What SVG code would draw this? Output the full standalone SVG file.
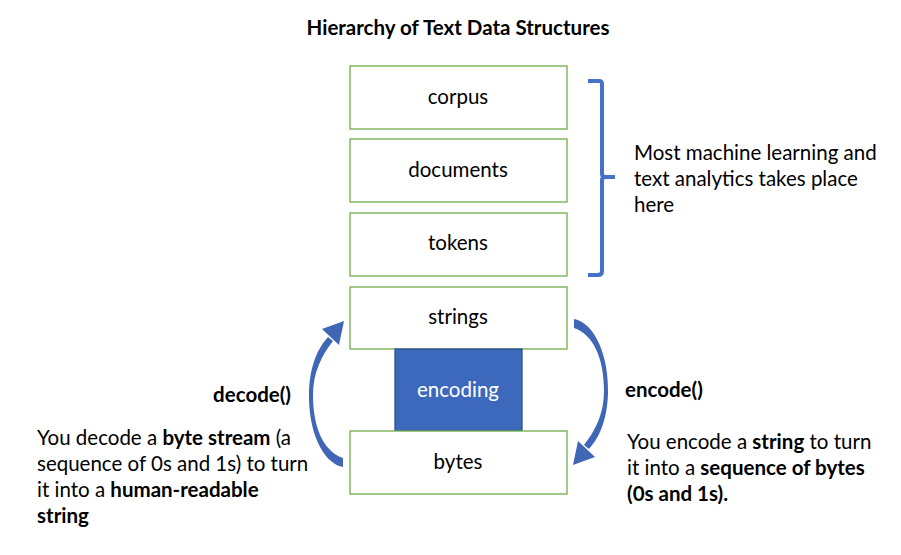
<svg xmlns="http://www.w3.org/2000/svg" width="901" height="555" viewBox="0 0 901 555">
<style>
  text { font-family: Lato, "Open Sans", "Liberation Sans", sans-serif; font-size: 20.5px; fill: #000; }
  .box { fill: #fff; stroke: #70ad47; stroke-width: 1.3; }
  .enc { fill: #3d69bd; stroke: #2f528f; stroke-width: 1.3; }
  .lbl { text-anchor: middle; }
  .b { font-weight: bold; }
  .arrow { fill: #3f67b5; }
  .brace { fill: none; stroke: #4472c4; stroke-width: 4; stroke-linejoin: round; stroke-linecap: butt; }
</style>
<rect width="901" height="555" fill="#fff"/>
<text x="458" y="35" class="lbl b" font-size="18.6">Hierarchy of Text Data Structures</text>

<g id="corpus"><rect class="box" x="350" y="66" width="217" height="63"/><text class="lbl" x="458" y="104">corpus</text></g>
<g id="documents"><rect class="box" x="350" y="139" width="217" height="63"/><text class="lbl" x="458" y="177">documents</text></g>
<g id="tokens"><rect class="box" x="350" y="213" width="217" height="63"/><text class="lbl" x="458" y="250">tokens</text></g>
<g id="strings"><rect class="box" x="350" y="287" width="217" height="62"/><text class="lbl" x="458" y="324">strings</text></g>
<g id="encoding"><rect class="enc" x="395" y="349" width="127" height="82"/><text class="lbl" x="458" y="397" style="fill:#fff">encoding</text></g>
<g id="bytes"><rect class="box" x="350" y="431" width="217" height="63"/><text class="lbl" x="458" y="469">bytes</text></g>

<g id="brace"><path class="brace" d="M588,81 L599,81 Q602,81 602,84 L602,174 Q602,177 606,177 L615,177 M606,177 Q602,177 602,180 L602,271 Q602,275 598,275 L588,275"/></g>

<g id="note">
  <text x="634" y="160">Most machine learning and</text>
  <text x="634" y="186">text analytics takes place</text>
  <text x="634" y="212">here</text>
</g>

<g id="connectors">
  <g id="decode-arrow" class="arrow">
    <path d="M343,467 C322,463 308,430 309,392 C310,365 318,348 328,337 L333,341 C322,355 313,372 313,395 C313,430 325,452 343,458 Z"/>
    <polygon points="344,321 322,329 339,345"/>
  </g>
  <g id="encode-arrow" class="arrow" transform="rotate(180 458.5 393)">
    <path d="M343,467 C322,463 308,430 309,392 C310,365 318,348 328,337 L333,341 C322,355 313,372 313,395 C313,430 325,452 343,458 Z"/>
    <polygon points="344,321 322,329 339,345"/>
  </g>
</g>

<g id="decode-label">
  <text x="291" y="402" class="b" text-anchor="end">decode()</text>
  <text x="37" y="445">You decode a <tspan class="b">byte stream</tspan> (a</text>
  <text x="37" y="471">sequence of 0s and 1s) to turn</text>
  <text x="37" y="497">it into a <tspan class="b">human-readable</tspan></text>
  <text x="37" y="523" class="b">string</text>
</g>

<g id="encode-label">
  <text x="625" y="397" class="b">encode()</text>
  <text x="627" y="449">You encode a <tspan class="b">string</tspan> to turn</text>
  <text x="627" y="475">it into a <tspan class="b">sequence of bytes</tspan></text>
  <text x="627" y="501" class="b">(0s and 1s).</text>
</g>
</svg>
